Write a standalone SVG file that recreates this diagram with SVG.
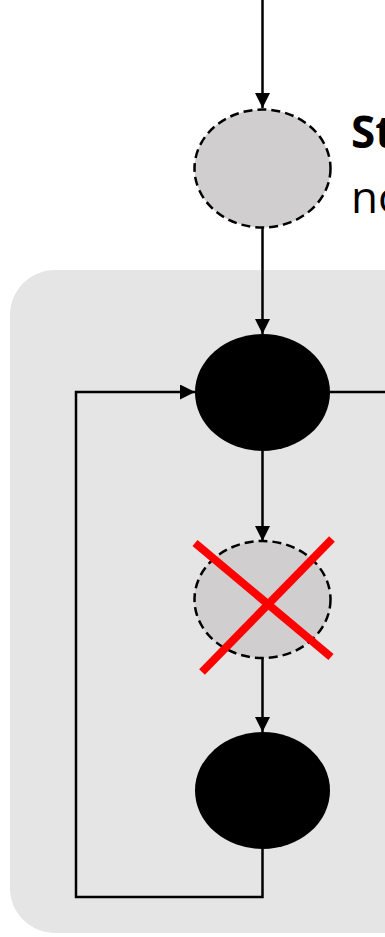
<svg xmlns="http://www.w3.org/2000/svg" width="385" height="937" viewBox="0 0 385 937">
  <defs>
    <marker id="arrow" viewBox="0 0 10 10" refX="10" refY="5" markerWidth="15" markerHeight="15" markerUnits="userSpaceOnUse" orient="auto">
      <path d="M0,0 L10,5 L0,10 Z" fill="#000"/>
    </marker>
    <style>
      .edge { fill: none; stroke: #000; stroke-width: 2.5; }
      .dashed { fill: #d0cece; stroke: #000; stroke-width: 2.5; stroke-dasharray: 9 5; }
      .solid { fill: #000; }
      .cross { stroke: #ff0000; stroke-width: 8; }
      .lbl { font-family: "Open Sans", "Liberation Sans", sans-serif; font-size: 44px; fill: #000; }
    </style>
  </defs>
  <rect id="group" x="10" y="270" width="430" height="663" rx="45" ry="45" fill="#e5e5e5"/>
  <g id="connectors">
    <path class="edge" d="M262.5,0 V108" marker-end="url(#arrow)"/>
    <path class="edge" d="M262.5,227 V334" marker-end="url(#arrow)"/>
    <path class="edge" d="M330,392 H385"/>
    <path class="edge" d="M262.5,451 V541" marker-end="url(#arrow)"/>
    <path class="edge" d="M262.5,658 V732" marker-end="url(#arrow)"/>
    <path class="edge" d="M262.5,849 V897 H76 V392 H195" marker-end="url(#arrow)"/>
  </g>
  <g id="node-start">
    <ellipse class="dashed" cx="262.5" cy="168.5" rx="68" ry="59"/>
  </g>
  <g id="label">
    <text class="lbl" x="351" y="148" font-weight="bold">St</text>
    <text class="lbl" x="351" y="213">no</text>
  </g>
  <g id="node-1">
    <ellipse class="solid" cx="262.5" cy="392.5" rx="67.5" ry="58.5"/>
  </g>
  <g id="node-removed">
    <ellipse class="dashed" cx="262.5" cy="599.5" rx="68" ry="58.5"/>
    <line class="cross" x1="195" y1="543" x2="331" y2="657"/>
    <line class="cross" x1="332" y1="539" x2="202" y2="672"/>
  </g>
  <g id="node-3">
    <ellipse class="solid" cx="262.5" cy="790.5" rx="67.5" ry="58.5"/>
  </g>
</svg>
